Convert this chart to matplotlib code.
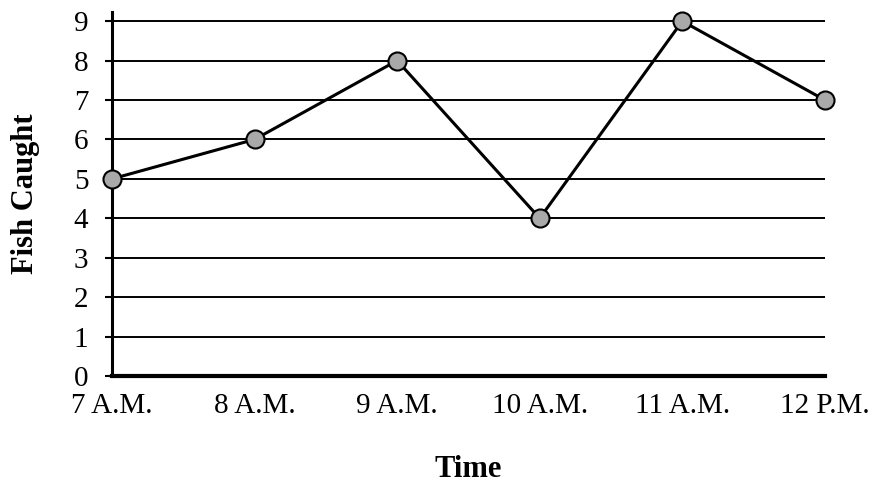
import matplotlib
matplotlib.use("Agg")
import matplotlib.pyplot as plt

# data
times = ['7 A.M.', '8 A.M.', '9 A.M.', '10 A.M.', '11 A.M.', '12 P.M.']
fish = [5, 6, 8, 4, 9, 7]
yticks = list(range(10))

plt.rcParams['font.family'] = ['Liberation Serif', 'DejaVu Serif']

fig = plt.figure(figsize=(8.71, 4.83), dpi=100)
ax = fig.add_axes([0.1286, 0.2215, 0.947 - 0.1286, 0.975 - 0.2215])

x = list(range(len(times)))
for y in yticks[1:]:
    ax.axhline(y, color='black', lw=1.4, zorder=1)

ax.plot(x, fish, color='black', lw=2.2, marker='o', markersize=13,
        markerfacecolor='#a9a9a9', markeredgecolor='black',
        markeredgewidth=1.5, clip_on=False, zorder=3)

ax.set_xlim(0, len(times) - 1)
ax.set_ylim(0, 9.23)
ax.set_yticks(yticks)
ax.set_xticks(x)
ax.set_xticklabels(times)
ax.set_xticks([0], minor=True)

ax.tick_params(axis='y', labelsize=21, length=5, width=1.5, pad=12)
ax.tick_params(axis='x', which='major', labelsize=21, length=0, pad=12)
ax.tick_params(axis='x', which='minor', length=7, width=2)

for s in ['top', 'right']:
    ax.spines[s].set_visible(False)
ax.spines['left'].set_linewidth(2.2)
ax.spines['bottom'].set_linewidth(3)

ax.set_ylabel('Fish Caught', fontsize=22, fontweight='bold')
ax.yaxis.set_label_coords(-0.101, 0.5)
fig.text(0.537, 0.013, 'Time', fontsize=22, fontweight='bold',
         ha='center', va='baseline')

fig.savefig('out.png', dpi=100)
